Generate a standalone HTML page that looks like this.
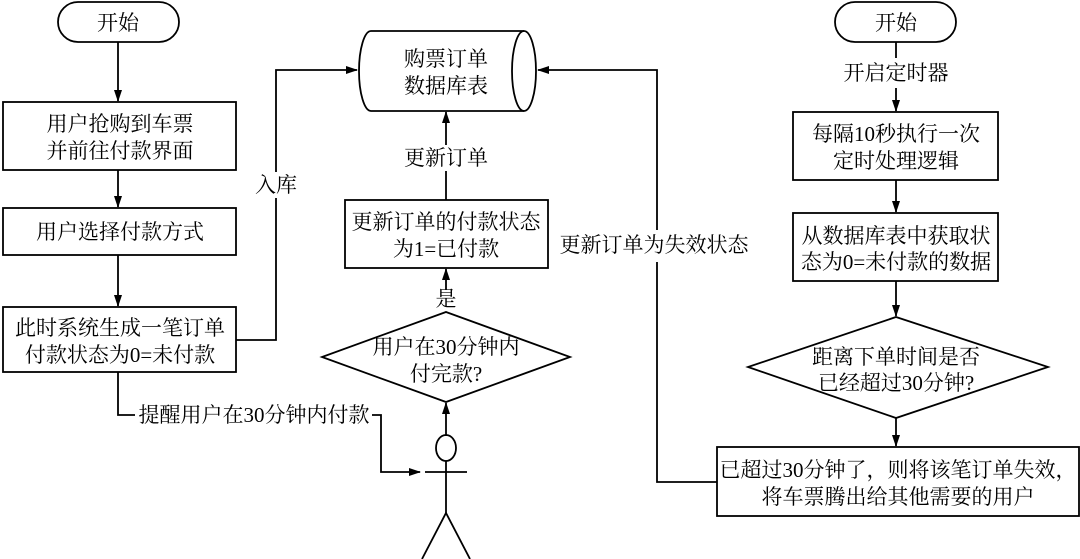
<!DOCTYPE html>
<html><head><meta charset="utf-8"><style>
html,body{margin:0;padding:0;background:#fff;}
svg{display:block;}
text{font-family:"Liberation Serif","Noto Serif CJK SC","Noto Sans CJK SC",serif;font-size:21px;fill:#000;text-anchor:middle;}
</style></head><body>
<svg width="1080" height="559" viewBox="0 0 1080 559" xmlns="http://www.w3.org/2000/svg">
<defs><marker id="a" markerWidth="12" markerHeight="8" refX="11" refY="4" orient="auto" markerUnits="userSpaceOnUse"><path d="M0,0 L12,4 L0,8 Z" fill="#000"/></marker></defs>
<g stroke="#000" stroke-width="1.8" fill="none">
<rect x="58" y="2" width="121" height="40" rx="20"/>
<line x1="118" y1="42" x2="118" y2="101" marker-end="url(#a)"/>
<rect x="3" y="102" width="233" height="68"/>
<line x1="118" y1="170" x2="118" y2="207" marker-end="url(#a)"/>
<rect x="3" y="208" width="233" height="47"/>
<line x1="118" y1="255" x2="118" y2="306" marker-end="url(#a)"/>
<rect x="3" y="307" width="233" height="65"/>
<polyline points="236,340 276,340 276,70 357,70" marker-end="url(#a)"/>
<polyline points="118,372 118,415 135,415"/>
<polyline points="372,415 381,415 381,472 420,472" marker-end="url(#a)"/>
<path d="M371,31 L524,31 A12,40 0 0 1 524,111 L371,111 A12,40 0 0 1 371,31 Z"/>
<path d="M524,31 A12,40 0 0 0 524,111"/>
<line x1="446" y1="200" x2="446" y2="112" marker-end="url(#a)"/>
<rect x="345" y="200" width="203" height="68"/>
<line x1="446" y1="290" x2="446" y2="269" marker-end="url(#a)"/>
<polygon points="446,312 570,357 446,402 322,357"/>
<line x1="446" y1="436" x2="446" y2="403" marker-end="url(#a)"/>
<ellipse cx="446" cy="448" rx="10" ry="13"/>
<line x1="425" y1="472" x2="467" y2="472"/>
<line x1="446" y1="461" x2="446" y2="513"/>
<polyline points="422,559 446,513 470,559"/>
<rect x="835" y="2" width="121" height="40" rx="20"/>
<line x1="896" y1="42" x2="896" y2="58"/>
<line x1="896" y1="88" x2="896" y2="111" marker-end="url(#a)"/>
<rect x="793" y="112" width="205" height="68"/>
<line x1="896" y1="180" x2="896" y2="212" marker-end="url(#a)"/>
<rect x="793" y="213" width="205" height="68"/>
<line x1="896" y1="281" x2="896" y2="316" marker-end="url(#a)"/>
<polygon points="896,317 1048,367 896,418 748,367"/>
<line x1="896" y1="418" x2="896" y2="446" marker-end="url(#a)"/>
<rect x="717" y="447" width="362" height="69"/>
<polyline points="717,482 657,482 657,262"/>
<polyline points="657,230 657,70 538,70" marker-end="url(#a)"/>
</g>
<text x="118" y="30">开始</text>
<text x="120" y="131">用户抢购到车票</text>
<text x="120" y="158">并前往付款界面</text>
<text x="120" y="239">用户选择付款方式</text>
<text x="120" y="335">此时系统生成一笔订单</text>
<text x="120" y="362">付款状态为0=未付款</text>
<rect x="252" y="172" width="48" height="26" fill="#fff"/>
<text x="276" y="192">入库</text>
<text x="254" y="422">提醒用户在30分钟内付款</text>
<text x="446" y="66">购票订单</text>
<text x="446" y="93">数据库表</text>
<rect x="398" y="145" width="96" height="26" fill="#fff"/>
<text x="446" y="165">更新订单</text>
<text x="446" y="229">更新订单的付款状态</text>
<text x="446" y="256">为1=已付款</text>
<text x="446" y="306">是</text>
<text x="446" y="354">用户在30分钟内</text>
<text x="446" y="381">付完款?</text>
<text x="896" y="30">开始</text>
<text x="896" y="80">开启定时器</text>
<text x="896" y="141">每隔10秒执行一次</text>
<text x="896" y="168">定时处理逻辑</text>
<text x="896" y="243">从数据库表中获取状</text>
<text x="896" y="269">态为0=未付款的数据</text>
<text x="896" y="364">距离下单时间是否</text>
<text x="896" y="390">已经超过30分钟?</text>
<text x="898" y="477">已超过30分钟了，则将该笔订单失效，</text>
<text x="898" y="504">将车票腾出给其他需要的用户</text>
<text x="654" y="252">更新订单为失效状态</text>
</svg>
</body></html>
